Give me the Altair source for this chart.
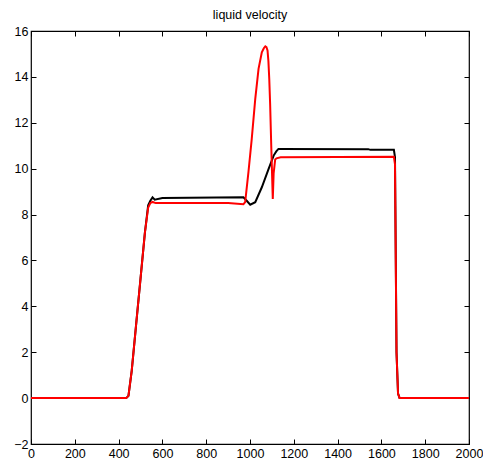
import altair as alt
import pandas as pd

# black curve
black_x = [0, 435, 445, 460, 480, 500, 520, 535, 545, 555, 565, 600, 970, 985, 1001, 1024,
           1054, 1085, 1108, 1120, 1130, 1140, 1540, 1550, 1657, 1662, 1669, 1676, 1683, 2000]
black_y = [0, 0, 0.1, 1.2, 3.2, 5.2, 7.2, 8.4, 8.6, 8.75, 8.65, 8.72, 8.75, 8.6, 8.43, 8.54,
           9.19, 9.99, 10.57, 10.75, 10.86, 10.86, 10.85, 10.82, 10.82, 10.5, 2.0, 0.2, 0, 0]

# red curve
red_x = [0, 435, 445, 460, 480, 500, 520, 535, 545, 555, 570, 900, 970, 978, 993, 1008,
         1024, 1039, 1054, 1063, 1070, 1075, 1080, 1084, 1088, 1092, 1097, 1104, 1108,
         1115, 1121, 1140, 1657, 1662, 1669, 1676, 1683, 2000]
red_y = [0, 0, 0.1, 1.2, 3.2, 5.2, 7.2, 8.3, 8.5, 8.55, 8.5, 8.5, 8.45, 8.54, 9.86, 11.3,
         13.04, 14.35, 15.07, 15.25, 15.33, 15.3, 15.15, 14.7, 13.9, 12.8, 11.0, 8.68, 9.8,
         10.4, 10.45, 10.5, 10.52, 10.2, 2.0, 0.2, 0, 0]

x_ticks = list(range(0, 2001, 200))
y_ticks = list(range(-2, 17, 2))

df = pd.concat([
    pd.DataFrame({"x": black_x, "y": black_y, "series": "black", "o": range(len(black_x))}),
    pd.DataFrame({"x": red_x, "y": red_y, "series": "red", "o": range(len(red_x))}),
])

FONT = "Liberation Sans"
FS = 12.5

def xaxis(orient, labels):
    return alt.Axis(orient=orient, values=x_ticks, labels=labels, title=None, grid=False,
                    domain=False, ticks=True, tickSize=5, offset=-5, tickColor="black",
                    labelPadding=3, labelFont=FONT, labelFontSize=FS, labelColor="black",
                    labelFlush=False, labelOverlap=False, format="d")

def yaxis(orient, labels):
    return alt.Axis(orient=orient, values=y_ticks, labels=labels, title=None, grid=False,
                    domain=False, ticks=True, tickSize=5, offset=-5, tickColor="black",
                    labelPadding=3, labelFont=FONT, labelFontSize=FS, labelColor="black",
                    labelFlush=False, labelOverlap=False, format="d")

xs = alt.Scale(domain=[0, 2000], nice=False, zero=False)
ys = alt.Scale(domain=[-2, 16], nice=False, zero=False)

lines = alt.Chart(df).mark_line(strokeWidth=2, clip=True).encode(
    x=alt.X("x:Q", scale=xs, axis=xaxis("bottom", True)),
    y=alt.Y("y:Q", scale=ys, axis=yaxis("left", True)),
    color=alt.Color("series:N", scale=alt.Scale(domain=["black", "red"], range=["#000000", "#ff0000"]), legend=None),
    order="o:Q",
)

frame = alt.Chart(df).mark_line(opacity=0).encode(
    x=alt.X("x:Q", scale=xs, axis=xaxis("top", False)),
    y=alt.Y("y:Q", scale=ys, axis=yaxis("right", False)),
    detail="series:N",
)

chart = alt.layer(lines, frame).resolve_axis(x="independent", y="independent").properties(
    width=438, height=413,
    title=alt.TitleParams("liquid velocity", font=FONT, fontSize=FS, fontWeight="normal",
                          color="#000000", offset=4),
    padding={"left": 5, "top": 0, "right": 0, "bottom": 0},
).configure_view(stroke="black", strokeWidth=1.2)

chart.save("out.html", embed_options={"renderer": "svg", "actions": False})
